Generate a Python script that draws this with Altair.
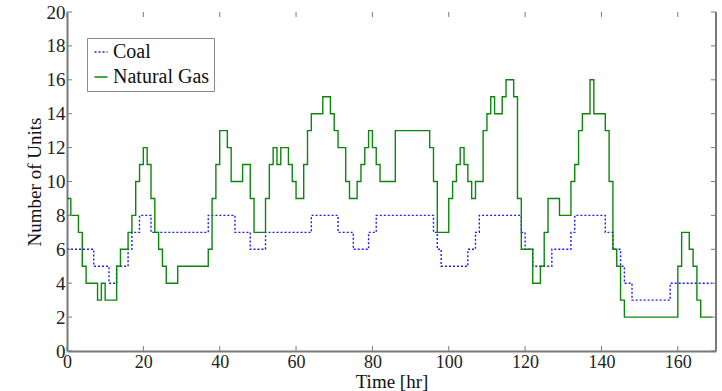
import altair as alt
import pandas as pd

# Hourly unit commitment, hours 0..169
hours = list(range(170))

coal = [6, 6, 6, 6, 6, 6, 6, 5, 5, 5,
        5, 4, 4, 5, 5, 5, 6, 7, 7, 8,
        8, 8, 7, 7, 7, 7, 7, 7, 7, 7,
        7, 7, 7, 7, 7, 7, 7, 8, 8, 8,
        8, 8, 8, 8, 7, 7, 7, 7, 6, 6,
        6, 6, 7, 7, 7, 7, 7, 7, 7, 7,
        7, 7, 7, 7, 8, 8, 8, 8, 8, 8,
        8, 7, 7, 7, 7, 6, 6, 6, 6, 7,
        7, 8, 8, 8, 8, 8, 8, 8, 8, 8,
        8, 8, 8, 8, 8, 8, 7, 6, 5, 5,
        5, 5, 5, 5, 5, 6, 6, 7, 8, 8,
        8, 8, 8, 8, 8, 8, 8, 8, 8, 7,
        6, 6, 5, 5, 5, 5, 5, 6, 6, 6,
        6, 6, 7, 8, 8, 8, 8, 8, 8, 8,
        8, 7, 7, 6, 6, 5, 4, 4, 3, 3,
        3, 3, 3, 3, 3, 3, 3, 3, 4, 4,
        4, 4, 4, 4, 4, 4, 4, 4, 4, 4]

gas = [9, 8, 8, 7, 5, 4, 4, 4, 3, 4,
       3, 3, 3, 5, 6, 6, 7, 8, 10, 11,
       12, 11, 9, 7, 6, 5, 4, 4, 4, 5,
       5, 5, 5, 5, 5, 5, 5, 6, 9, 11,
       13, 13, 12, 10, 10, 10, 11, 11, 9, 7,
       7, 7, 9, 11, 12, 11, 12, 12, 11, 10,
       9, 9, 11, 13, 14, 14, 14, 15, 15, 14,
       13, 12, 12, 10, 9, 9, 10, 11, 12, 13,
       12, 11, 10, 10, 10, 10, 13, 13, 13, 13,
       13, 13, 13, 13, 13, 12, 10, 7, 7, 7,
       9, 10, 11, 12, 11, 10, 9, 10, 10, 13,
       14, 15, 14, 14, 15, 16, 16, 15, 9, 6,
       6, 6, 4, 4, 5, 7, 9, 9, 9, 8,
       8, 8, 10, 11, 13, 14, 14, 16, 14, 14,
       14, 13, 10, 6, 5, 3, 2, 2, 2, 2,
       2, 2, 2, 2, 2, 2, 2, 2, 2, 2,
       5, 7, 7, 6, 5, 3, 2, 2, 2, 2]

series_names = ["Coal", "Natural Gas"]
series_colors = ["#1a1aff", "#0b860b"]
series_dash = [[2, 2], [1, 0]]

x_ticks = [0, 20, 40, 60, 80, 100, 120, 140, 160]
y_ticks = [0, 2, 4, 6, 8, 10, 12, 14, 16, 18, 20]

W, H = 649, 339
SERIF = "Liberation Serif"
AXIS_GRAY = "#7a7a7a"
TICK_LEN = 5

df = pd.DataFrame({
    "hour": hours * 2,
    "units": coal + gas,
    "series": ["Coal"] * len(coal) + ["Natural Gas"] * len(gas),
})
xt = pd.DataFrame({"hour": x_ticks})
yt = pd.DataFrame({"units": y_ticks})

x_scale = alt.Scale(domain=[0, 170], nice=False, zero=False)
y_scale = alt.Scale(domain=[0, 20], nice=False)

# one axis definition shared by every layer so the merged axes keep all labels
x_axis = alt.Axis(values=x_ticks, title="Time [hr]", labelPadding=2,
                  titlePadding=1, labelOverlap=False, labelFlush=False,
                  labelFontSize=18)
y_axis = alt.Axis(values=y_ticks, title="Number of Units", labelPadding=2,
                  titlePadding=2, labelOverlap=False, labelFlush=False,
                  labelFontSize=19)

X = alt.X("hour:Q", scale=x_scale, axis=x_axis, title="Time [hr]")
Y = alt.Y("units:Q", scale=y_scale, axis=y_axis, title="Number of Units")

lines = alt.Chart(df).mark_line(interpolate="step-after", strokeWidth=1.4).encode(
    x=X,
    y=Y,
    color=alt.Color("series:N",
                    scale=alt.Scale(domain=series_names, range=series_colors),
                    legend=alt.Legend(title=None)),
    strokeDash=alt.StrokeDash("series:N",
                              scale=alt.Scale(domain=series_names, range=series_dash),
                              legend=alt.Legend(title=None)),
    order=alt.Order("series:N", sort="ascending"),
)

# inward tick marks on all four sides
bottom_ticks = alt.Chart(xt).mark_rule(color=AXIS_GRAY, strokeWidth=1).encode(
    x=X, y=alt.value(H), y2=alt.value(H - TICK_LEN))
top_ticks = alt.Chart(xt).mark_rule(color=AXIS_GRAY, strokeWidth=1).encode(
    x=X, y=alt.value(0), y2=alt.value(TICK_LEN))
left_ticks = alt.Chart(yt).mark_rule(color=AXIS_GRAY, strokeWidth=1).encode(
    y=Y, x=alt.value(0), x2=alt.value(TICK_LEN))
right_ticks = alt.Chart(yt).mark_rule(color=AXIS_GRAY, strokeWidth=1).encode(
    y=Y, x=alt.value(W), x2=alt.value(W - TICK_LEN))
right_edge = alt.Chart(yt).mark_rule(color=AXIS_GRAY, strokeWidth=1.5).encode(
    x=alt.value(W), y=alt.value(0), y2=alt.value(H))

chart = alt.layer(
    lines, bottom_ticks, top_ticks, left_ticks, right_ticks, right_edge
).properties(
    width=W, height=H,
    padding={"left": 67, "top": 12, "right": 6, "bottom": 40},
    autosize=alt.AutoSizeParams(type="none"),
    background="white",
).configure_view(
    stroke=None
).configure_axis(
    grid=False,
    ticks=False,
    domainColor=AXIS_GRAY,
    domainWidth=2,
    labelFont=SERIF,
    labelColor="#222222",
    titleFont=SERIF,
    titleFontSize=19,
    titleFontWeight="normal",
    titleColor="#111111",
).configure_legend(
    orient="none",
    legendX=20,
    legendY=26,
    padding=4,
    fillColor="white",
    strokeColor="#8a8a8a",
    symbolType="stroke",
    symbolSize=169,
    symbolStrokeWidth=1.4,
    labelFont=SERIF,
    labelFontSize=20,
    labelColor="#111111",
    labelOffset=2,
    rowPadding=5,
)

chart.save("out.html", embed_options={"renderer": "svg", "actions": False})
